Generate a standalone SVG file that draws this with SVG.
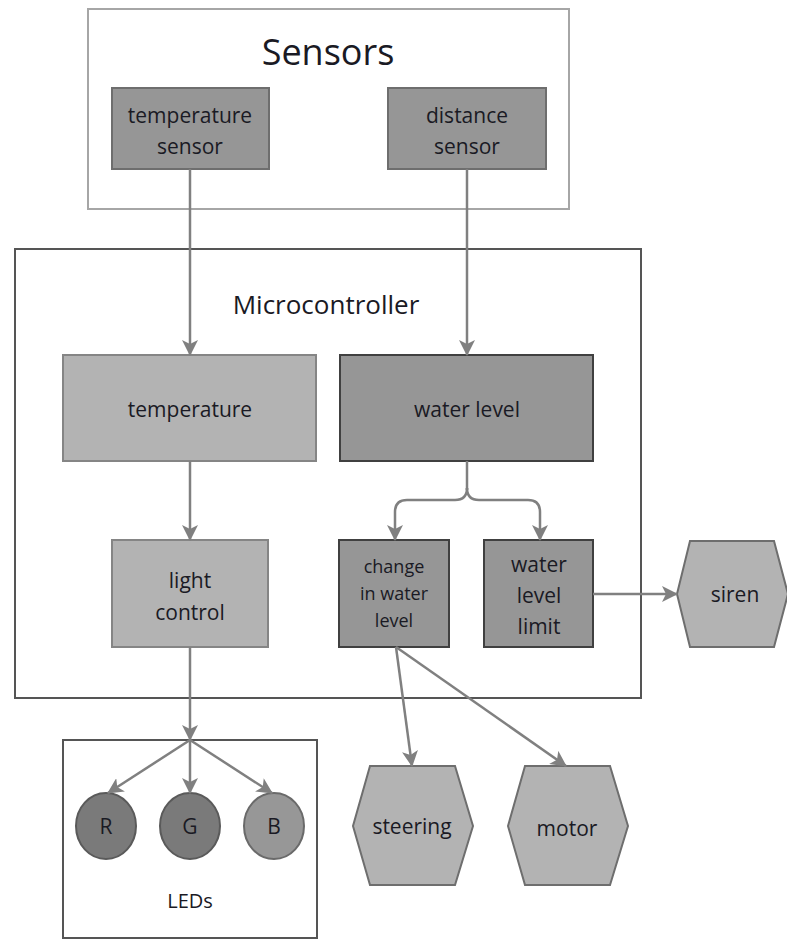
<svg xmlns="http://www.w3.org/2000/svg" width="787" height="940" viewBox="0 0 787 940">
<style>
text{font-family:"Open Sans","Liberation Sans",sans-serif;fill:#1a1a24;text-anchor:middle}
.t{font-size:21px}
.s{font-size:18px}
.dark{fill:#969696;stroke:#6e6e6e;stroke-width:2}
.darker{fill:#969696;stroke:#404040;stroke-width:2}
.light{fill:#b3b3b3;stroke:#858585;stroke-width:2}
.hex{fill:#b3b3b3;stroke:#6e6e6e;stroke-width:2}
.cont{fill:#fff;stroke:#555;stroke-width:2}
.con{fill:none;stroke:#808080;stroke-width:2.5;marker-end:url(#ah)}
.plain{fill:none;stroke:#808080;stroke-width:2.5}
</style>
<defs>
<marker id="ah" viewBox="0 0 16 16" refX="15" refY="8" markerWidth="16" markerHeight="16" markerUnits="userSpaceOnUse" orient="auto">
<path d="M0,0 L16,8 L0,16 L4,8 z" fill="#808080"/>
</marker>
</defs>
<rect width="787" height="940" fill="#fff"/>
<g id="sensors">
<rect x="88" y="9" width="481" height="200" fill="#fff" stroke="#a6a6a6" stroke-width="2"/>
<text x="328" y="65" style="font-size:36px">Sensors</text>
</g>
<g id="temperature-sensor">
<rect class="dark" x="112" y="88" width="157" height="81"/>
<text class="t" x="190" y="123">temperature</text>
<text class="t" x="190" y="154">sensor</text>
</g>
<g id="distance-sensor">
<rect class="dark" x="388" y="88" width="158" height="81"/>
<text class="t" x="467" y="123">distance</text>
<text class="t" x="467" y="154">sensor</text>
</g>
<g id="microcontroller">
<rect class="cont" x="15" y="249" width="626" height="449"/>
<text x="326" y="314" style="font-size:26px">Microcontroller</text>
</g>
<g id="temperature">
<rect class="light" x="63" y="355" width="253" height="106"/>
<text class="t" x="190" y="417">temperature</text>
</g>
<g id="water-level">
<rect class="darker" x="340" y="355" width="253" height="106"/>
<text class="t" x="467" y="417">water level</text>
</g>
<g id="light-control">
<rect class="light" x="112" y="540" width="156" height="107"/>
<text class="t" x="190" y="588">light</text>
<text class="t" x="190" y="620">control</text>
</g>
<g id="change-in-water-level">
<rect class="darker" x="339" y="540" width="110" height="107"/>
<text class="s" x="394" y="573">change</text>
<text class="s" x="394" y="600">in water</text>
<text class="s" x="394" y="627">level</text>
</g>
<g id="water-level-limit">
<rect class="darker" x="484" y="540" width="109" height="107"/>
<text class="t" x="539" y="572">water</text>
<text class="t" x="539" y="603">level</text>
<text class="t" x="539" y="634">limit</text>
</g>
<g id="siren">
<polygon class="hex" points="690,541 774,541 788,594 774,647 690,647 677,594"/>
<text class="t" x="735" y="602">siren</text>
</g>
<g id="leds">
<rect class="cont" x="63" y="740" width="254" height="198"/>
<text class="t" x="190" y="908" style="font-size:20px">LEDs</text>
</g>
<g id="led-r">
<ellipse cx="106" cy="826" rx="30" ry="33" fill="#7a7a7a" stroke="#5a5a5a" stroke-width="2"/>
<text class="t" x="106" y="834">R</text>
</g>
<g id="led-g">
<ellipse cx="190" cy="826" rx="30" ry="33" fill="#7a7a7a" stroke="#5a5a5a" stroke-width="2"/>
<text class="t" x="190" y="834">G</text>
</g>
<g id="led-b">
<ellipse cx="274" cy="826" rx="30" ry="33" fill="#979797" stroke="#6a6a6a" stroke-width="2"/>
<text class="t" x="274" y="834">B</text>
</g>
<g id="steering">
<polygon class="hex" points="370,766 455,766 473,826 455,885 370,885 353,826"/>
<text class="t" x="412" y="834">steering</text>
</g>
<g id="motor">
<polygon class="hex" points="525,766 610,766 628,826 610,885 525,885 508,826"/>
<text class="t" x="567" y="836">motor</text>
</g>
<g id="connectors">
<line class="con" x1="190" y1="169" x2="190" y2="355"/>
<line class="con" x1="467" y1="169" x2="467" y2="355"/>
<line class="con" x1="190" y1="461" x2="190" y2="540"/>
<path class="plain" d="M467,461 V490"/>
<path class="con" d="M467,488 Q467,500 455,500 H407 Q395,500 395,512 V540"/>
<path class="con" d="M467,488 Q467,500 479,500 H528 Q540,500 540,512 V540"/>
<line class="con" x1="593" y1="594" x2="677" y2="594"/>
<line class="con" x1="190" y1="647" x2="190" y2="740"/>
<line class="con" x1="190" y1="740" x2="108" y2="793"/>
<line class="con" x1="190" y1="740" x2="190" y2="793"/>
<line class="con" x1="190" y1="740" x2="272" y2="793"/>
<line class="con" x1="396" y1="647" x2="412" y2="766"/>
<line class="con" x1="396" y1="647" x2="566" y2="766"/>
</g>
</svg>
